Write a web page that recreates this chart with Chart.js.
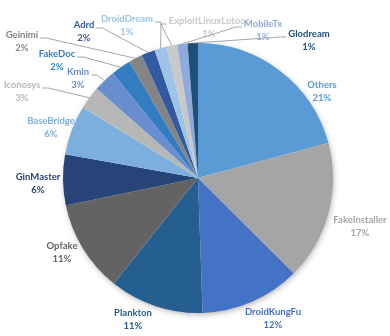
<!DOCTYPE html>
<html lang="en">
<head>
  <meta charset="UTF-8">
  <title>Malware Families</title>
  <script src="https://cdn.jsdelivr.net/npm/chart.js"></script>
  <style>
    body { margin: 0; background: #fff; }
  </style>
</head>
<body>
<canvas id="familyChart" width="390" height="336"></canvas>

<script>
  // Families, clockwise from 12 o'clock
  const families = ['Others', 'FakeInstaller', 'DroidKungFu', 'Plankton', 'Opfake', 'GinMaster',
      'BaseBridge', 'Iconosys', 'Kmin', 'FakeDoc', 'Geinimi', 'Adrd', 'DroidDream',
      'ExploitLinuxLotoor', 'MobileTx', 'Glodream'];
  // Sample counts per family (read as shares of the pie)
  const samples = [1158, 925, 667, 625, 613, 339, 330, 152, 147, 132, 92, 91, 81, 70, 69, 69];

  const colors = ['#5B9BD5', '#A5A5A5', '#4472C4', '#255E91', '#636363', '#264478',
      '#7CAFDD', '#B7B7B7', '#698ED0', '#327DC2', '#848484', '#335AA1', '#9DC3E6',
      '#C9C9C9', '#8FAADC', '#1F4E79'];

  // label centres, offset in px from the pie centre
  const labelOffsets = [[124, -87], [162, 48], [75, 140], [-65, 141], [-136, 74], [-160, 5],
      [-147, -51], [-176, -87], [-120, -100], [-141, -118], [-176, -137], [-114, -147],
      [-71, -153], [11, -151], [65, -148], [111, -138]];
  const withLeader = [false, false, false, false, false, false, false,
      true, true, true, true, true, true, true, true, true];

  const total = samples.reduce((a, b) => a + b, 0);

  // soft shadow under the whole pie
  const shadowPlugin = {
      id: 'pieShadow',
      beforeDatasetsDraw(chart) {
          const arc = chart.getDatasetMeta(0).data[0];
          const ctx = chart.ctx;
          ctx.save();
          ctx.shadowColor = 'rgba(0,0,0,0.35)';
          ctx.shadowBlur = 6;
          ctx.shadowOffsetX = 1;
          ctx.shadowOffsetY = 2;
          ctx.fillStyle = '#ffffff';
          ctx.beginPath();
          ctx.arc(arc.x, arc.y, arc.outerRadius - 1, 0, Math.PI * 2);
          ctx.fill();
          ctx.restore();
      }
  };

  // data labels with leader lines
  const labelPlugin = {
      id: 'sliceLabels',
      afterDatasetsDraw(chart) {
          const ctx = chart.ctx;
          const meta = chart.getDatasetMeta(0);
          ctx.save();
          ctx.font = 'bold 9.5px Lato';
          ctx.textAlign = 'center';
          ctx.textBaseline = 'middle';
          meta.data.forEach((arc, i) => {
              const lx = arc.x + labelOffsets[i][0];
              const ly = arc.y + labelOffsets[i][1];
              const pct = Math.round(samples[i] / total * 100) + '%';
              const w = Math.max(ctx.measureText(families[i]).width, ctx.measureText(pct).width);

              if (withLeader[i]) {
                  const mid = (arc.startAngle + arc.endAngle) / 2;
                  const px = arc.x + Math.cos(mid) * arc.outerRadius;
                  const py = arc.y + Math.sin(mid) * arc.outerRadius;
                  const right = px > lx;
                  const sx = right ? lx + w / 2 + 2 : lx - w / 2 - 2;
                  const sy = ly - 3;
                  const stub = right ? sx + 6 : sx - 6;
                  ctx.strokeStyle = '#A6A6A6';
                  ctx.lineWidth = 1;
                  ctx.beginPath();
                  ctx.moveTo(sx, sy);
                  ctx.lineTo(stub, sy);
                  ctx.lineTo(px, py);
                  ctx.stroke();
              }

              ctx.fillStyle = colors[i];
              ctx.fillText(families[i], lx, ly - 6);
              ctx.fillText(pct, lx, ly + 7);
          });
          ctx.restore();
      }
  };

  new Chart(document.getElementById('familyChart').getContext('2d'), {
      type: 'pie',
      data: {
          labels: families,
          datasets: [{
              data: samples,
              backgroundColor: colors,
              borderWidth: 0
          }]
      },
      options: {
          responsive: false,
          animation: false,
          layout: { padding: { left: 63, right: 57, top: 43, bottom: 23 } },
          plugins: {
              legend: { display: false },
              tooltip: { enabled: false }
          }
      },
      plugins: [shadowPlugin, labelPlugin]
  });
</script>
</body>
</html>
